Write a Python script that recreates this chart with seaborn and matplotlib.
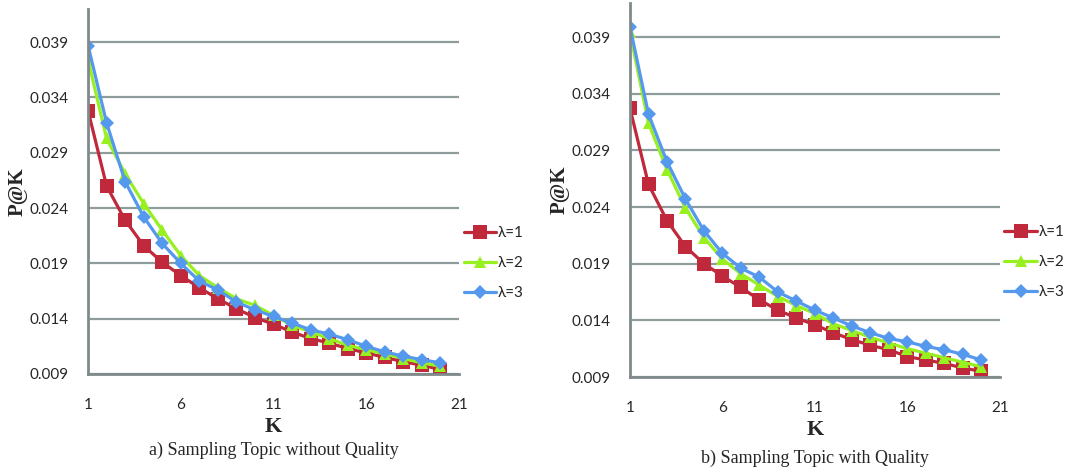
import numpy as np
import pandas as pd
import matplotlib
matplotlib.use("Agg")
import matplotlib.pyplot as plt
import seaborn as sns

# P@K values
k_values = list(range(1, 21))

no_quality_l1 = [0.0328, 0.0260, 0.0229, 0.0206, 0.0191, 0.0179, 0.0168, 0.0158, 0.0149, 0.0141,
                 0.0135, 0.0128, 0.0122, 0.0118, 0.0113, 0.0109, 0.0105, 0.0101, 0.0098, 0.0094]
no_quality_l2 = [0.0374, 0.0303, 0.0271, 0.0244, 0.0220, 0.0197, 0.0179, 0.0168, 0.0158, 0.0152,
                 0.0143, 0.0134, 0.0128, 0.0122, 0.0116, 0.0112, 0.0108, 0.0104, 0.0100, 0.0097]
no_quality_l3 = [0.0387, 0.0317, 0.0264, 0.0232, 0.0208, 0.0190, 0.0174, 0.0166, 0.0155, 0.0148,
                 0.0142, 0.0136, 0.0130, 0.0126, 0.0121, 0.0115, 0.0110, 0.0106, 0.0103, 0.0100]

quality_l1 = [0.0327, 0.0260, 0.0228, 0.0205, 0.0190, 0.0179, 0.0169, 0.0158, 0.0149, 0.0142,
              0.0136, 0.0129, 0.0123, 0.0118, 0.0114, 0.0108, 0.0105, 0.0102, 0.0098, 0.0095]
quality_l2 = [0.0394, 0.0314, 0.0273, 0.0239, 0.0213, 0.0194, 0.0181, 0.0171, 0.0161, 0.0153,
              0.0146, 0.0137, 0.0131, 0.0125, 0.0120, 0.0115, 0.0111, 0.0107, 0.0103, 0.0099]
quality_l3 = [0.0399, 0.0322, 0.0280, 0.0247, 0.0219, 0.0199, 0.0186, 0.0178, 0.0165, 0.0157,
              0.0149, 0.0142, 0.0135, 0.0129, 0.0124, 0.0121, 0.0117, 0.0114, 0.0110, 0.0105]

series_names = ["λ=1", "λ=2", "λ=3"]
y_ticks = [0.009, 0.014, 0.019, 0.024, 0.029, 0.034, 0.039]
x_ticks = [1, 6, 11, 16, 21]

captions = ["a) Sampling Topic without Quality", "b) Sampling Topic with Quality"]

sns.set_style("white")
plt.rcParams['font.family'] = ['Lato', 'DejaVu Sans']

colors = {"λ=1": "#C0283C", "λ=2": "#98F020", "λ=3": "#5599EE"}
markers = {"λ=1": "s", "λ=2": "^", "λ=3": "D"}
msizes = {"λ=1": 10, "λ=2": 9, "λ=3": 7.5}


def make_frame(l1, l2, l3):
    rows = []
    for name, vals in zip(series_names, [l1, l2, l3]):
        for k, v in zip(k_values, vals):
            rows.append({"K": k, "P@K": v, "series": name})
    return pd.DataFrame(rows)


fig = plt.figure(figsize=(10.66, 4.74), dpi=100)
ax1 = fig.add_axes([0.0826, 0.211, 0.348, 0.770])
ax2 = fig.add_axes([0.591, 0.2046, 0.347, 0.789])

# (axes, data, caption, caption y, legend centre y)
panels = [
    (ax1, make_frame(no_quality_l1, no_quality_l2, no_quality_l3), captions[0], -0.208, 0.304),
    (ax2, make_frame(quality_l1, quality_l2, quality_l3), captions[1], -0.217, 0.307),
]

for ax, df, caption, cap_y, legend_y in panels:
    for name in series_names:
        sub = df[df["series"] == name]
        sns.lineplot(data=sub, x="K", y="P@K", ax=ax, color=colors[name],
                     marker=markers[name], markersize=msizes[name],
                     markeredgewidth=0, linewidth=2.3, label=name)

    ax.set_xlim(1, 21)
    ax.set_ylim(0.009, 0.042)
    ax.set_xticks(x_ticks)
    ax.set_yticks(y_ticks)
    ax.set_yticklabels([f"{t:.3f}" for t in y_ticks])
    ax.tick_params(axis='x', length=0, pad=17, labelsize=11)
    ax.tick_params(axis='y', length=0, pad=14, labelsize=11)
    ax.grid(True, axis='y', color='#8E9C9C', linewidth=1.6)
    ax.grid(False, axis='x')
    ax.set_axisbelow(True)
    for side in ['top', 'right']:
        ax.spines[side].set_visible(False)
    for side in ['left', 'bottom']:
        ax.spines[side].set_color('#7F8A8A')
        ax.spines[side].set_linewidth(2)

    ax.set_xlabel("K", fontfamily='Liberation Serif', fontweight='bold',
                  fontsize=16, labelpad=4)
    ax.set_ylabel("P@K", fontfamily='Liberation Serif', fontweight='bold',
                  fontsize=15, labelpad=1)
    ax.text(0.5, cap_y, caption, transform=ax.transAxes, ha='center', va='center',
            fontfamily='Liberation Serif', fontsize=13)

    ax.legend(loc='center left', bbox_to_anchor=(1.0, legend_y), frameon=False,
              fontsize=11, handlelength=2.1, handletextpad=0.15, labelspacing=1.05,
              borderaxespad=0.3, borderpad=0)

fig.savefig("out.png", dpi=100)
